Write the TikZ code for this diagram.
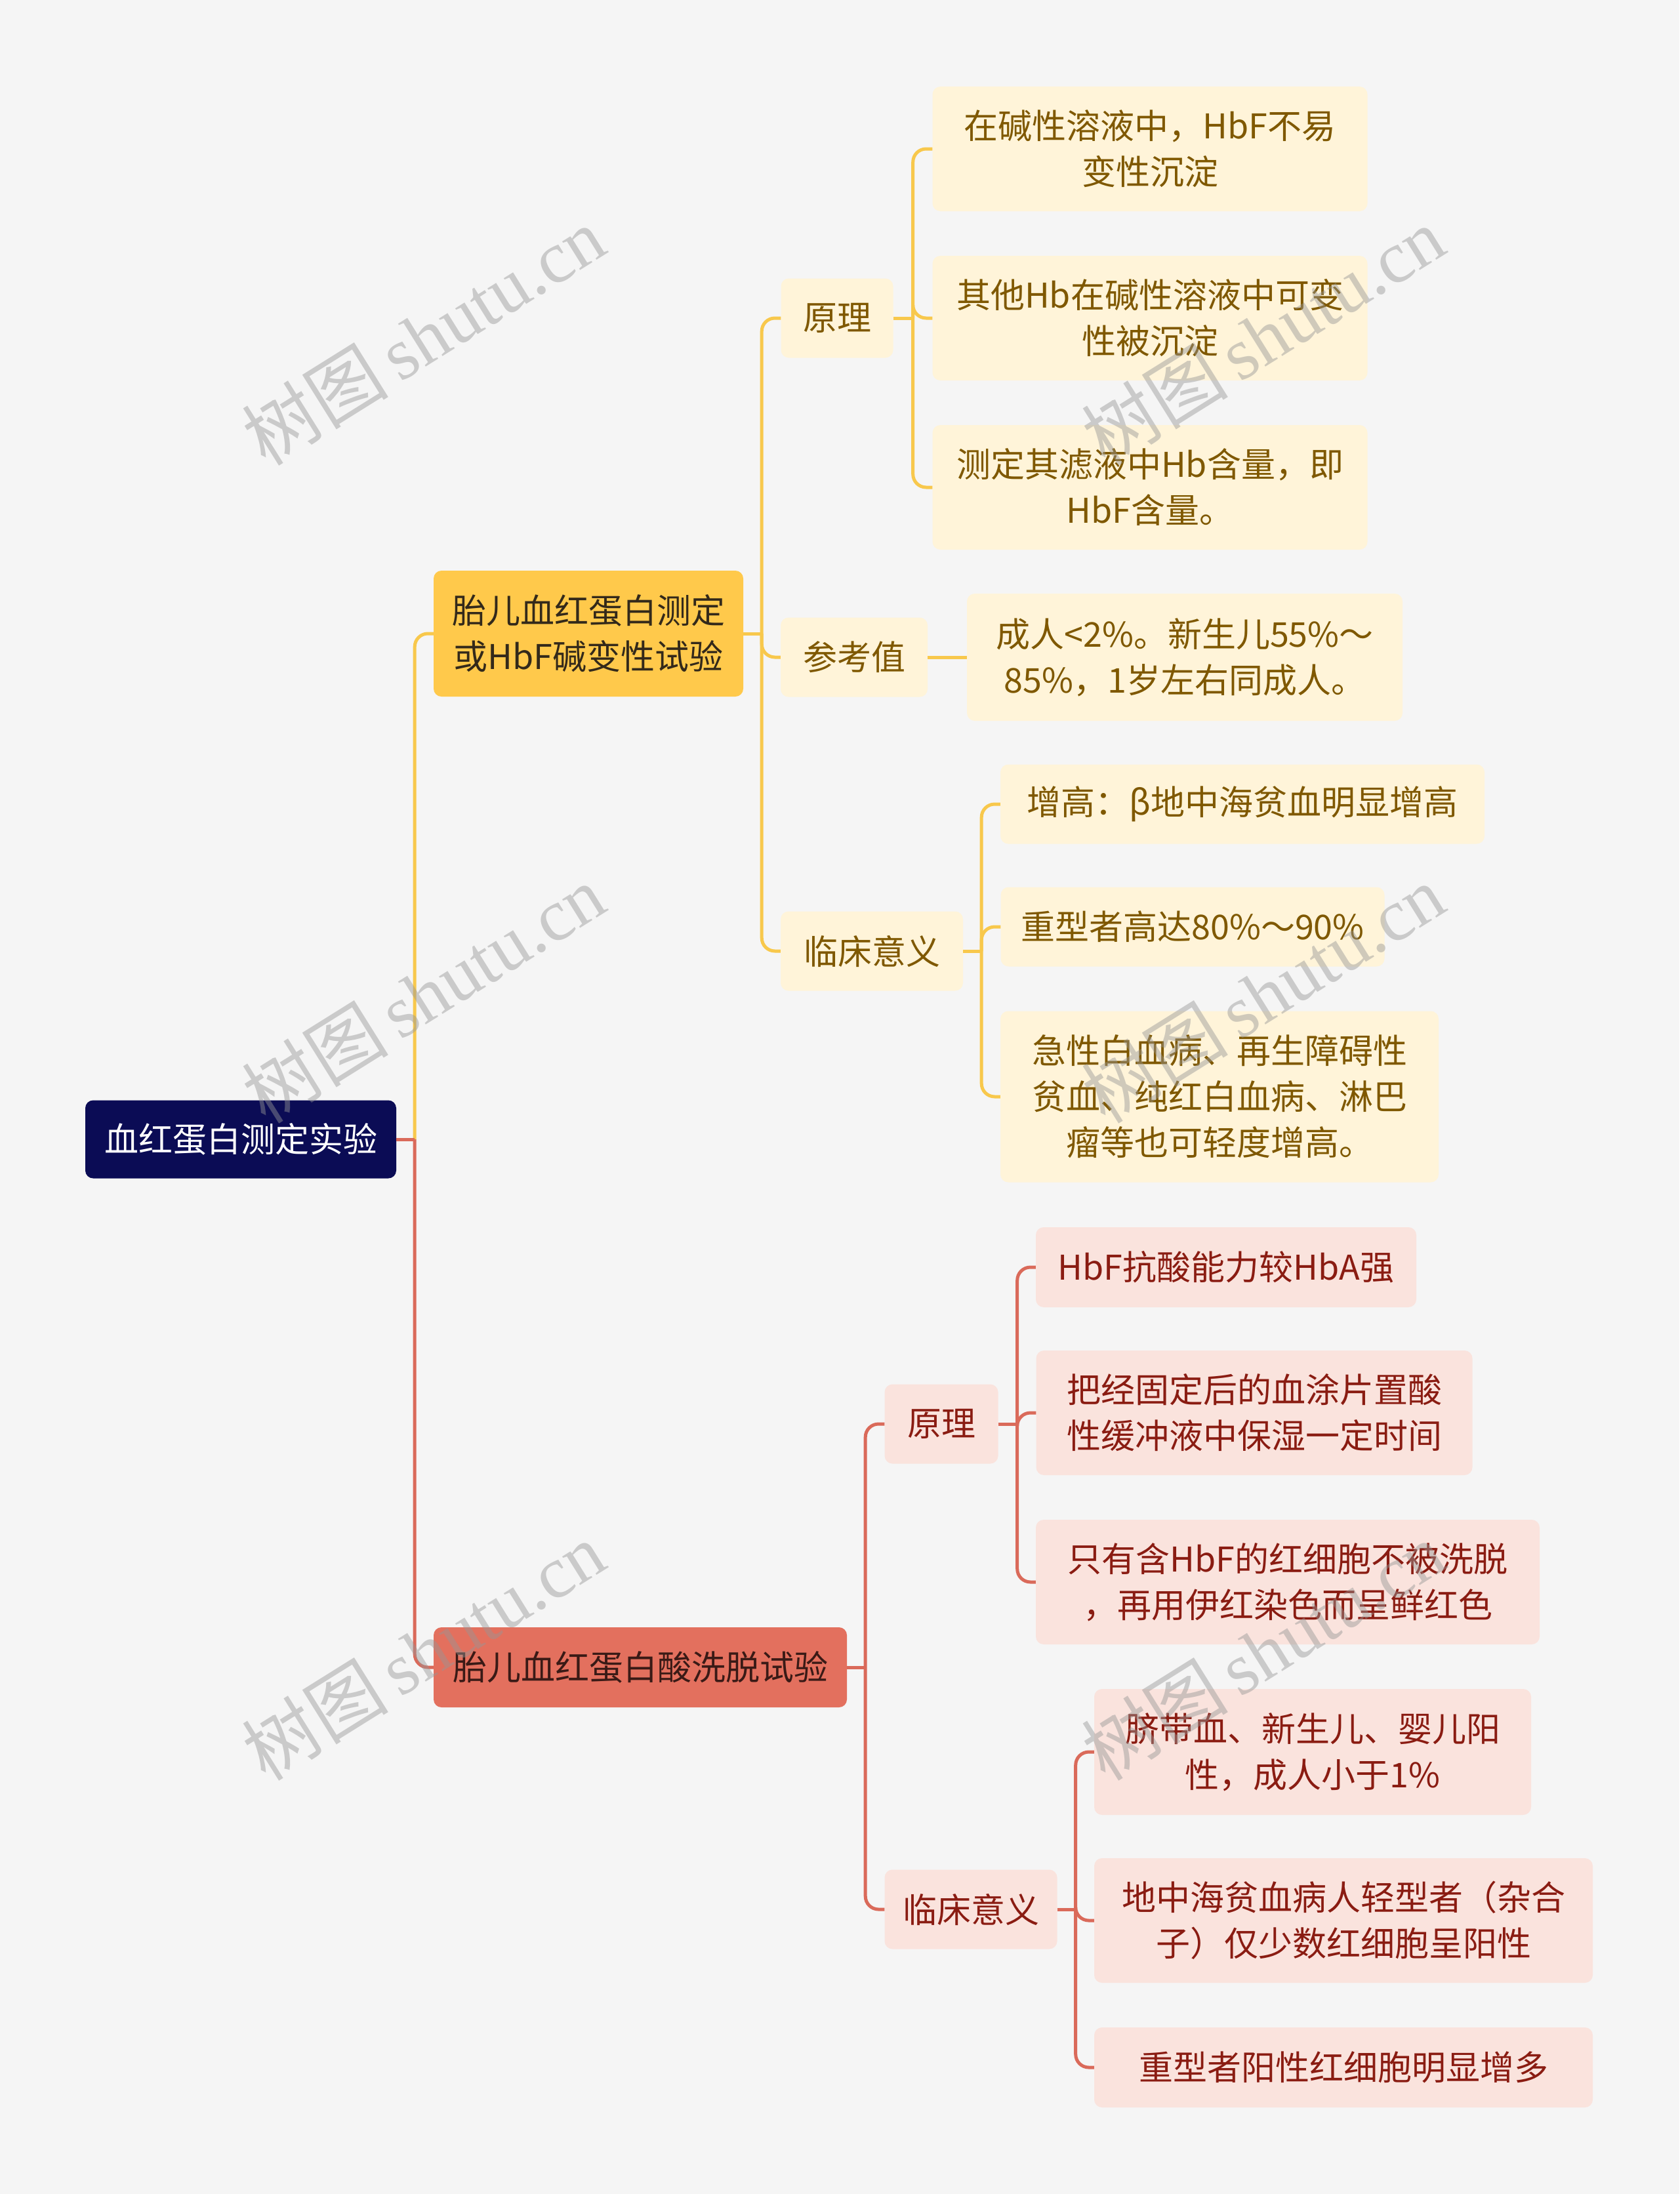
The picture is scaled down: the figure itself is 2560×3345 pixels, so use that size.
\documentclass[tikz,border=0pt]{standalone}
\usepackage{fontspec}
\setmainfont{Noto Sans CJK SC}
\newfontfamily\wmlatin{Liberation Serif}
\usetikzlibrary{calc}
\definecolor{bgc}{HTML}{F5F5F5}
\definecolor{rootfill}{HTML}{0B0C55}
\definecolor{yfill}{HTML}{FFC94B}
\definecolor{ytext}{HTML}{33291A}
\definecolor{ycfill}{HTML}{FFF4D9}
\definecolor{yctext}{HTML}{7F5800}
\definecolor{yline}{HTML}{F8C84C}
\definecolor{rfill}{HTML}{E3705E}
\definecolor{rtext}{HTML}{3A1A16}
\definecolor{rcfill}{HTML}{FAE3DD}
\definecolor{rctext}{HTML}{8A1C12}
\definecolor{rline}{HTML}{DA6A5A}
\definecolor{wmgray}{RGB}{150,150,150}
\tikzset{
  box/.style={rectangle, rounded corners=12pt, inner sep=0pt, align=center,
    font=\fontsize{52}{70}\selectfont},
  rootbox/.style={box, fill=rootfill, text=white},
  ybranch/.style={box, fill=yfill, text=ytext},
  ychild/.style={box, fill=ycfill, text=yctext},
  rbranch/.style={box, fill=rfill, text=rtext},
  rchild/.style={box, fill=rcfill, text=rctext},
  ycon/.style={draw=yline, line width=5pt},
  rcon/.style={draw=rline, line width=5pt},
  wm/.style={text=wmgray, opacity=0.45, rotate=32, font=\fontsize{112}{112}\selectfont}
}
\newcommand{\wmtext}{树图\,{\wmlatin shutu.cn}}
\begin{document}
\begin{tikzpicture}[x=1pt,y=-1pt]
\fill[bgc] (0,0) rectangle (2560,3345);
\useasboundingbox (0,0) rectangle (2560,3345);

% nodes
\node[rootbox, minimum width=474pt, minimum height=119pt] (root) at (367,1737) {血红蛋白测定实验};

\node[ybranch, minimum width=472pt, minimum height=192pt] (b1) at (897,966) {胎儿血红蛋白测定\\或HbF碱变性试验};
\node[rbranch, minimum width=630pt, minimum height=122pt] (b2) at (976,2542) {胎儿血红蛋白酸洗脱试验};

\node[ychild, minimum width=171pt, minimum height=121pt] (y1) at (1276,485) {原理};
\node[ychild, minimum width=224pt, minimum height=121pt] (y2) at (1302,1002) {参考值};
\node[ychild, minimum width=278pt, minimum height=121pt] (y3) at (1329,1450) {临床意义};

\node[ychild, minimum width=663pt, minimum height=190pt] (y11) at (1753,227) {在碱性溶液中，HbF不易\\变性沉淀};
\node[ychild, minimum width=663pt, minimum height=190pt] (y12) at (1753,485) {其他Hb在碱性溶液中可变\\性被沉淀};
\node[ychild, minimum width=663pt, minimum height=190pt] (y13) at (1753,743) {测定其滤液中Hb含量，即\\HbF含量。};

\node[ychild, minimum width=664pt, minimum height=194pt] (y21) at (1806,1002) {成人<2\%。新生儿55\%～\\85\%，1岁左右同成人。};

\node[ychild, minimum width=738pt, minimum height=121pt] (y31) at (1894,1226) {增高：β地中海贫血明显增高};
\node[ychild, minimum width=585pt, minimum height=121pt] (y32) at (1818,1413) {重型者高达80\%～90\%};
\node[ychild, minimum width=668pt, minimum height=261pt] (y33) at (1859,1672) {急性白血病、再生障碍性\\贫血、纯红白血病、淋巴\\瘤等也可轻度增高。};

\node[rchild, minimum width=173pt, minimum height=121pt] (r1) at (1435,2171) {原理};
\node[rchild, minimum width=263pt, minimum height=121pt] (r2) at (1480,2911) {临床意义};

\node[rchild, minimum width=580pt, minimum height=122pt] (r11) at (1869,1932) {HbF抗酸能力较HbA强};
\node[rchild, minimum width=665pt, minimum height=190pt] (r12) at (1912,2154) {把经固定后的血涂片置酸\\性缓冲液中保湿一定时间};
\node[rchild, minimum width=768pt, minimum height=190pt] (r13) at (1963,2412) {只有含HbF的红细胞不被洗脱\\，再用伊红染色而呈鲜红色};

\node[rchild, minimum width=666pt, minimum height=192pt] (r21) at (2001,2671) {脐带血、新生儿、婴儿阳\\性，成人小于1\%};
\node[rchild, minimum width=760pt, minimum height=190pt] (r22) at (2048,2928) {地中海贫血病人轻型者（杂合\\子）仅少数红细胞呈阳性};
\node[rchild, minimum width=760pt, minimum height=122pt] (r23) at (2048,3152) {重型者阳性红细胞明显增多};

% junction coordinates
\coordinate (j0) at ($(root.east)+(28,0)$);
\coordinate (j1) at ($(b1.east)+(28,0)$);
\coordinate (j11) at ($(y1.east)+(30,0)$);
\coordinate (j13) at ($(y3.east)+(28,0)$);
\coordinate (j2) at ($(b2.east)+(28,0)$);
\coordinate (j21) at ($(r1.east)+(29,0)$);
\coordinate (j22) at ($(r2.east)+(28,0)$);

% connectors (yellow)
\draw[ycon, rounded corners=20pt] (j0) |- (b1.west);
\draw[ycon] (b1.east) -- (j1);
\foreach \c in {y1,y2,y3} \draw[ycon, rounded corners=20pt] (j1) |- (\c.west);
\draw[ycon] (y1.east) -- (j11);
\foreach \c in {y11,y12,y13} \draw[ycon, rounded corners=20pt] (j11) |- (\c.west);
\draw[ycon] (y2.east) -- (y21.west);
\draw[ycon] (y3.east) -- (j13);
\foreach \c in {y31,y32,y33} \draw[ycon, rounded corners=20pt] (j13) |- (\c.west);

% connectors (red)
\draw[rcon, rounded corners=20pt] (j0) |- (b2.west);
\draw[rcon] (root.east) -- (j0);
\draw[rcon] (b2.east) -- (j2);
\foreach \c in {r1,r2} \draw[rcon, rounded corners=20pt] (j2) |- (\c.west);
\draw[rcon] (r1.east) -- (j21);
\foreach \c in {r11,r12,r13} \draw[rcon, rounded corners=20pt] (j21) |- (\c.west);
\draw[rcon] (r2.east) -- (j22);
\foreach \c in {r21,r22,r23} \draw[rcon, rounded corners=20pt] (j22) |- (\c.west);

% watermarks
\begin{scope}
\clip (0,0) rectangle (2560,3345);
\foreach \yy in {512,1515,2517,3520} {
  \node[wm] at (645,\yy) {\wmtext};
  \node[wm] at (1925,\yy) {\wmtext};
}
\end{scope}
\end{tikzpicture}
\end{document}
